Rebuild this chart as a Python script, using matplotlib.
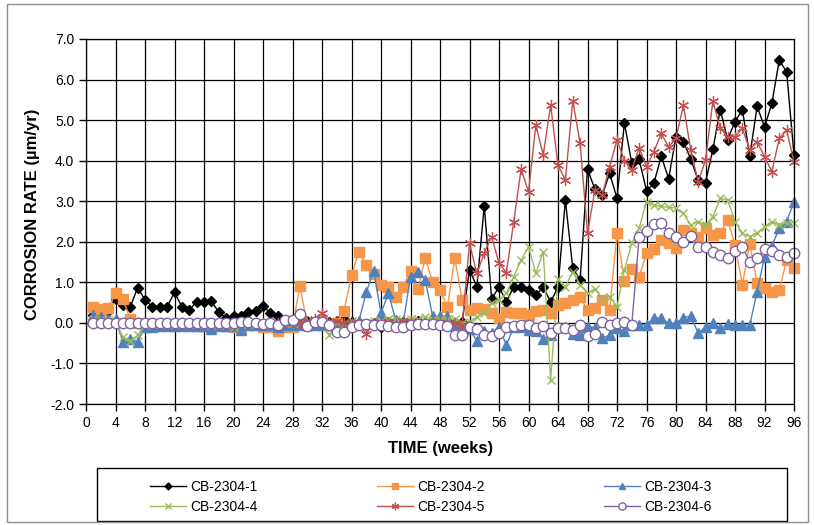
import numpy as np
import matplotlib
matplotlib.use("Agg")
import matplotlib.pyplot as plt
from matplotlib.patches import Rectangle

plt.rcParams['font.family'] = ['Liberation Sans', 'DejaVu Sans']

# %% Data (weekly readings, weeks 1-96)
weeks = np.arange(1, 97)

cb1 = [0.20, 0.25, 0.30, 0.60, 0.45, 0.39, 0.87, 0.57, 0.40, 0.38,
       0.40, 0.75, 0.40, 0.32, 0.52, 0.52, 0.54, 0.26, 0.12, 0.18,
       0.18, 0.26, 0.30, 0.42, 0.24, 0.16, 0.08, 0.05, 0.02, 0.05,
       0.00, 0.05, 0.02, 0.05, 0.09, 0.02, 0.00, -0.05, 0.00, -0.10,
       0.02, 0.00, 0.02, -0.05, 0.05, 0.00, 0.02, 0.00, 0.02, 0.00,
       0.02, 1.31, 0.89, 2.89, 0.58, 0.89, 0.52, 0.89, 0.89, 0.80,
       0.69, 0.88, 0.52, 0.88, 3.03, 1.35, 1.06, 3.79, 3.30, 3.15,
       3.69, 3.07, 4.93, 3.95, 4.03, 3.26, 3.44, 4.11, 3.56, 4.59,
       4.47, 4.04, 3.52, 3.46, 4.28, 5.26, 4.52, 4.96, 5.26, 4.11,
       5.34, 4.83, 5.41, 6.48, 6.19, 4.14]

cb2 = [0.40, 0.34, 0.36, 0.73, 0.58, 0.10, 0.00, -0.05, -0.05, -0.05,
       -0.05, -0.05, -0.05, -0.05, -0.08, -0.05, -0.10, -0.05, -0.08, -0.10,
       -0.15, -0.05, -0.05, -0.10, -0.10, -0.21, -0.10, -0.10, 0.91, -0.05,
       0.00, 0.05, -0.05, 0.00, 0.30, 1.17, 1.76, 1.43, 1.20, 0.93,
       0.88, 0.63, 0.89, 1.29, 0.83, 1.59, 1.02, 0.81, 0.39, 1.59,
       0.57, 0.32, 0.36, 0.35, 0.25, 0.12, 0.27, 0.25, 0.25, 0.20,
       0.30, 0.32, 0.25, 0.44, 0.48, 0.57, 0.65, 0.32, 0.36, 0.57,
       0.32, 2.21, 1.04, 1.32, 1.14, 1.72, 1.82, 2.04, 1.96, 1.84,
       2.29, 2.21, 2.13, 2.33, 2.17, 2.21, 2.54, 1.92, 0.94, 1.95,
       0.99, 0.85, 0.75, 0.80, 1.55, 1.35]

cb3 = [0.20, 0.15, 0.10, 0.10, -0.47, -0.40, -0.47, -0.10, -0.10, -0.08,
       -0.08, -0.08, -0.08, -0.08, -0.08, -0.08, -0.15, -0.08, -0.08, -0.08,
       -0.17, -0.05, -0.05, -0.05, -0.05, -0.10, -0.05, -0.05, -0.05, -0.05,
       -0.05, -0.05, -0.05, -0.05, -0.05, -0.05, 0.05, 0.75, 1.29, 0.24,
       0.73, 0.07, 0.00, 1.13, 1.26, 1.06, 0.16, 0.16, 0.16, -0.05,
       -0.05, -0.15, -0.45, -0.20, -0.25, -0.10, -0.55, -0.10, -0.10, -0.17,
       -0.20, -0.40, -0.30, -0.09, -0.09, -0.28, -0.30, -0.09, -0.12, -0.38,
       -0.30, -0.13, -0.20, -0.05, -0.05, -0.05, 0.12, 0.12, -0.01, -0.01,
       0.13, 0.17, -0.25, -0.11, -0.01, -0.13, -0.03, -0.05, -0.05, -0.05,
       0.77, 1.63, 1.90, 2.33, 2.50, 2.99]

cb4 = [0.10, 0.10, 0.10, 0.05, -0.35, -0.45, -0.30, -0.05, -0.02, -0.02,
       -0.02, -0.02, -0.02, -0.02, -0.02, -0.02, -0.05, -0.02, -0.05, -0.10,
       -0.02, -0.02, -0.02, -0.02, -0.02, -0.05, 0.00, 0.00, 0.00, 0.00,
       0.05, 0.00, -0.30, 0.00, 0.00, 0.05, 0.00, 0.00, 0.05, 0.05,
       0.10, 0.10, 0.05, 0.10, 0.10, 0.15, 0.10, 0.10, 0.10, 0.10,
       0.00, 0.03, 0.15, 0.24, 0.50, 0.57, 0.73, 1.14, 1.55, 1.88,
       1.22, 1.76, -1.40, 1.08, 0.89, 1.26, 0.94, 0.73, 0.83, 0.61,
       0.65, 0.40, 1.31, 1.96, 2.33, 2.99, 2.91, 2.87, 2.85, 2.83,
       2.70, 2.41, 2.50, 2.41, 2.62, 3.07, 3.03, 2.50, 2.21, 2.13,
       2.22, 2.37, 2.50, 2.41, 2.47, 2.47]

cb5 = [0.00, 0.00, 0.00, 0.00, 0.00, 0.00, 0.00, 0.00, 0.00, 0.00,
       0.00, 0.00, 0.00, 0.00, 0.00, 0.00, 0.00, 0.00, 0.00, 0.00,
       0.00, 0.00, 0.00, 0.00, 0.00, 0.00, 0.00, 0.05, 0.00, 0.05,
       0.10, 0.24, 0.00, 0.05, 0.00, 0.00, 0.00, -0.28, 0.00, 0.02,
       0.02, -0.03, 0.05, 0.05, 0.00, 0.00, 0.00, 0.00, 0.00, 0.00,
       -0.05, 1.96, 1.22, 1.72, 2.13, 1.47, 1.24, 2.50, 3.79, 3.23,
       4.88, 4.14, 5.37, 3.89, 3.52, 5.48, 4.43, 2.21, 3.28, 3.15,
       3.85, 4.52, 4.00, 3.77, 4.32, 3.85, 4.22, 4.67, 4.34, 4.55,
       5.37, 4.26, 3.48, 4.01, 5.47, 4.80, 4.59, 4.59, 4.80, 4.26,
       4.47, 4.10, 3.73, 4.55, 4.75, 3.97]

cb6 = [0.00, 0.00, 0.00, 0.00, 0.00, 0.00, 0.00, 0.00, 0.00, 0.00,
       0.00, 0.00, 0.00, 0.00, 0.00, 0.00, 0.00, 0.00, 0.00, 0.00,
       0.03, 0.03, 0.00, -0.03, 0.00, -0.05, 0.07, 0.07, 0.21, -0.07,
       0.03, 0.03, -0.05, -0.23, -0.23, -0.09, -0.05, -0.03, -0.05, -0.05,
       -0.07, -0.09, -0.09, -0.05, -0.03, -0.02, -0.03, -0.05, -0.07, -0.30,
       -0.30, -0.10, -0.15, -0.30, -0.32, -0.25, -0.10, -0.07, -0.05, -0.05,
       -0.13, -0.08, -0.25, -0.13, -0.13, -0.17, -0.05, -0.32, -0.28, 0.01,
       -0.05, 0.00, 0.03, -0.05, 2.13, 2.27, 2.44, 2.47, 2.21, 2.11,
       2.00, 2.14, 1.86, 1.86, 1.76, 1.67, 1.59, 1.78, 1.88, 1.51,
       1.59, 1.81, 1.78, 1.67, 1.63, 1.72]

labels = ['CB-2304-1', 'CB-2304-2', 'CB-2304-3', 'CB-2304-4', 'CB-2304-5', 'CB-2304-6']
xticks = np.arange(0, 97, 4)
yticks = np.arange(-2.0, 7.01, 1.0)

# %% Plot
fig = plt.figure(figsize=(8.14, 5.25), dpi=100)
ax = fig.add_axes([86 / 814, 1 - 404 / 525, 708 / 814, 365 / 525])

styles = [
    dict(color='black', marker='D', ms=5, mfc='black', mec='black'),
    dict(color='#F79646', marker='s', ms=7, mfc='#F79646', mec='#F79646'),
    dict(color='#4F81BD', marker='^', ms=7, mfc='#4F81BD', mec='#4F81BD'),
    dict(color='#9BBB59', marker='x', ms=6, mew=1.0),
    dict(color='#C0504D', marker=(6, 2, 0), ms=8, mew=0.9),
    dict(color='#8064A2', marker='o', ms=7.5, mfc='white', mec='#8064A2', mew=1.0),
]

series = [cb1, cb2, cb3, cb4, cb5, cb6]
handles = []
for vals, lab, st in zip(series, labels, styles):
    ln, = ax.plot(weeks, vals, lw=1.0, label=lab, clip_on=False, **st)
    handles.append(ln)

ax.set_xlim(0, 96)
ax.set_ylim(-2.0, 7.0)
ax.set_xticks(xticks)
ax.set_yticks(yticks)
ax.set_yticklabels([f'{v:.1f}' for v in yticks])
ax.grid(True, color='black', linewidth=0.9)
ax.set_axisbelow(True)
ax.tick_params(direction='out', length=5, width=1, labelsize=10, colors='black')
for s in ax.spines.values():
    s.set_color('black')
    s.set_linewidth(0.9)

fig.text(441 / 814, 1 - 448 / 525, 'TIME (weeks)', ha='center', va='center',
         fontsize=12, fontweight='bold')
fig.text(33 / 814, 1 - 214 / 525, 'CORROSION RATE (µm/yr)', ha='center', va='center',
         rotation=90, fontsize=12, fontweight='bold')

# legend: 3 columns filled row-wise like the original
order = [0, 3, 1, 4, 2, 5]
leg = fig.legend([handles[i] for i in order], [labels[i] for i in order],
                 ncol=3, loc='center', bbox_to_anchor=(431 / 814, 1 - 497 / 525),
                 frameon=False, fontsize=10, handlelength=2.6, handletextpad=0.3,
                 columnspacing=8.6, labelspacing=0.45, markerscale=0.7)

fig.patches.append(Rectangle((97 / 814, 1 - 521 / 525), 690 / 814, 53 / 525,
                             transform=fig.transFigure, fill=False,
                             edgecolor='black', linewidth=1.0))
fig.patches.append(Rectangle((7 / 814, 1 - 522 / 525), 801 / 814, 518 / 525,
                             transform=fig.transFigure, fill=False,
                             edgecolor='#8c8c8c', linewidth=1.0))

fig.savefig('out.png', dpi=100)
